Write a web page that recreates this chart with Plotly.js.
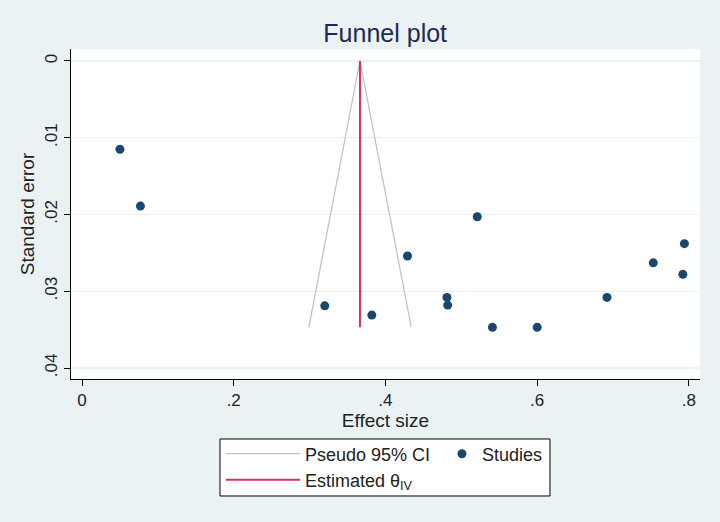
<!DOCTYPE html>
<html>
<head>
<meta charset="utf-8">
<script src="https://cdn.plot.ly/plotly-3.0.1.min.js"></script>
<style>html,body{margin:0;padding:0;background:#EAF2F3;}</style>
</head>
<body>
<div id="chart" style="width:720px;height:522px;"></div>
<script>
// Study effect sizes and standard errors
const studyEffect = [0.050, 0.077, 0.320, 0.382, 0.429, 0.481, 0.482, 0.521, 0.541, 0.600, 0.692, 0.753, 0.794, 0.792];
const studySE     = [0.0115, 0.0189, 0.0319, 0.0331, 0.0254, 0.0308, 0.0318, 0.0203, 0.0347, 0.0347, 0.0308, 0.0263, 0.0238, 0.0278];
// Pseudo 95% CI funnel
const ciEffect = [0.299, 0.3664, 0.434];
const ciSE     = [0.0347, 0, 0.0347];
// Estimated theta (IV)
const thetaEffect = [0.3664, 0.3664];
const thetaSE     = [0, 0.0347];
const xTicks = [0, 0.2, 0.4, 0.6, 0.8];
const xTickLabels = ['0', '.2', '.4', '.6', '.8'];
const yTicks = [0, 0.01, 0.02, 0.03, 0.04];
const yTickLabels = ['0', '.01', '.02', '.03', '.04'];

const font = 'Liberation Sans, Arial, sans-serif';
const txt = '#222222';

const traces = [
  {x: ciEffect, y: ciSE, mode: 'lines', name: 'Pseudo 95% CI', legend: 'legend',
   line: {color: '#c4c4c4', width: 1.3}},
  {x: studyEffect, y: studySE, mode: 'markers', name: 'Studies', legend: 'legend2',
   marker: {color: '#1a476f', size: 9}},
  {x: thetaEffect, y: thetaSE, mode: 'lines', name: 'Estimated θ<sub>IV</sub>', legend: 'legend3',
   line: {color: '#de2f5c', width: 2}}
];

const legBase = {
  bgcolor: 'rgba(0,0,0,0)', borderwidth: 0, yanchor: 'middle', xanchor: 'left',
  font: {family: font, size: 18, color: txt}
};

const layout = {
  width: 720, height: 522,
  paper_bgcolor: '#EAF2F3', plot_bgcolor: '#ffffff',
  margin: {l: 71, r: 20, t: 49, b: 143},
  font: {family: font, size: 17, color: txt},
  title: {text: 'Funnel plot', font: {family: font, size: 25, color: '#1e2a55'}, x: 0.535, xanchor: 'center', y: 0.937, yanchor: 'middle'},
  xaxis: {
    range: [-0.0145, 0.8146], tickvals: xTicks, ticktext: xTickLabels,
    showgrid: false, zeroline: false, showline: true, linecolor: '#000', linewidth: 1,
    ticks: 'outside', ticklen: 6, tickcolor: '#000',
    title: {text: 'Effect size', font: {family: font, size: 19, color: txt}, standoff: 2},
    tickfont: {family: font, size: 17, color: txt}
  },
  yaxis: {
    range: [0.04143, -0.00156], tickvals: yTicks, ticktext: yTickLabels,
    showgrid: true, gridcolor: '#EAF2F3', gridwidth: 1.2, zeroline: false,
    showline: true, linecolor: '#000', linewidth: 1,
    ticks: 'outside', ticklen: 6, tickcolor: '#000', tickangle: -90,
    title: {text: 'Standard error', font: {family: font, size: 19, color: txt}, standoff: 2},
    tickfont: {family: font, size: 17, color: txt}
  },
  showlegend: true,
  legend: Object.assign({}, legBase, {x: 0.2385, y: -0.2273, itemwidth: 74}),
  legend2: Object.assign({}, legBase, {x: 0.5898, y: -0.2273, itemwidth: 30}),
  legend3: Object.assign({}, legBase, {x: 0.2385, y: -0.306, itemwidth: 74}),
  shapes: [
    {type: 'rect', xref: 'paper', yref: 'paper', x0: 0.2369, x1: 0.7615, y0: -0.1818, y1: -0.3545,
     fillcolor: '#ffffff', line: {color: '#000', width: 1}, layer: 'below'}
  ]
};

Plotly.newPlot('chart', traces, layout, {displayModeBar: false, staticPlot: true});
</script>
</body>
</html>
